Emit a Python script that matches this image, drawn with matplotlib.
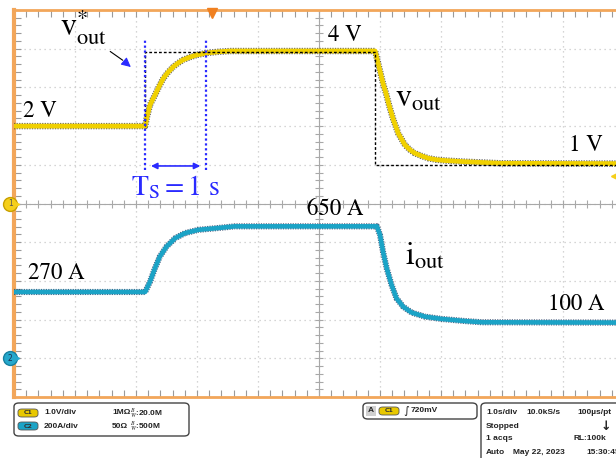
import matplotlib
matplotlib.use('Agg')
import matplotlib.pyplot as plt
from matplotlib.patches import FancyBboxPatch, Rectangle
import numpy as np

W, H = 616, 458

# channel 1: output voltage (V), time in s (1 s/div)
v_t = [0.0, 2.15, 2.18, 2.23, 2.31, 2.38, 2.45, 2.53, 2.61, 2.69, 2.77, 2.88, 3.00,
       3.16, 3.35, 3.54, 5.92, 5.97, 6.01, 6.05, 6.10, 6.14, 6.18, 6.22, 6.30, 6.41,
       6.49, 6.57, 6.68, 6.79, 6.93, 7.07, 7.39, 7.97, 10.0]
v_out = [2.0, 2.0, 2.24, 2.55, 2.80, 3.03, 3.24, 3.40, 3.53, 3.63, 3.71, 3.78, 3.84,
         3.89, 3.92, 3.94, 3.94, 3.62, 3.36, 3.10, 2.84, 2.59, 2.37, 2.16, 1.81, 1.51,
         1.39, 1.30, 1.23, 1.17, 1.13, 1.11, 1.08, 1.04, 1.03]

# reference v*out (dashed)
ref_t = [2.15, 2.15, 5.92, 5.92, 10.0]
ref_v = [2.0, 3.92, 3.92, 1.0, 1.0]

# channel 2: output current (A)
i_t = [0.0, 2.15, 2.23, 2.31, 2.39, 2.50, 2.64, 2.80, 3.02, 3.30, 3.62, 5.95, 6.00,
       6.05, 6.11, 6.19, 6.27, 6.38, 6.52, 6.74, 7.01, 7.39, 7.67, 10.0]
i_out = [270, 270, 329, 405, 472, 529, 577, 606, 625, 634, 645, 645, 596, 500, 405,
         310, 234, 186, 152, 129, 116, 104, 97, 95]

ts_lines = [2.15, 3.15]

YEL = '#f0d000'
CYN = '#1ba3c6'
ORG = '#f2a65a'
BLU = '#2a2aff'


def px(x):
    return x / W


def py(y):
    return 1 - y / H


plt.rcParams['mathtext.fontset'] = 'stix'
fig = plt.figure(figsize=(W / 100, H / 100), dpi=100)
ax = fig.add_axes([px(14), py(397), 610 / W, 387 / H])
ax.set_xlim(0, 10)
ax.set_ylim(-5, 5)
ax2 = ax.twinx()
ax2.set_ylim(-330, 1881)
ax2.axis('off')

# graticule
ax.set_xticks(np.arange(0, 11, 1))
ax.set_yticks(np.arange(-5, 6, 1))
ax.set_xticks(np.arange(0, 10.01, 0.2), minor=True)
ax.set_yticks(np.arange(-5, 5.01, 0.2), minor=True)
ax.tick_params(which='both', direction='in', length=5, width=0.8, color='#9a9a9a',
               top=True, right=False, labelbottom=False, labelleft=False)
ax.grid(True, which='major', color='#c8c8c8', lw=0.9, ls=(0, (1, 3)))
for s in ['left', 'top', 'bottom']:
    ax.spines[s].set_color(ORG)
ax.spines['left'].set_linewidth(3)
ax.spines['top'].set_linewidth(2)
ax.spines['bottom'].set_linewidth(2)
ax.spines['right'].set_visible(False)

ax.axvline(5, color='#a8a8a8', lw=0.8)
ax.axhline(0, color='#a8a8a8', lw=0.8)
ax.plot(np.full(51, 5.0), np.arange(-5, 5.01, 0.2), ls='none', marker='_',
        ms=6, color='#a8a8a8', mew=0.8)
ax.plot(np.arange(0, 10.01, 0.2), np.zeros(51), ls='none', marker='|',
        ms=6, color='#a8a8a8', mew=0.8)

# traces
ax.plot(v_t, v_out, color='#2a2a2a', lw=4.6, alpha=0.75, ls=(0, (0.2, 0.2)), zorder=3)
ax.plot(v_t, v_out, color=YEL, lw=3.4, zorder=4)
ax.plot(ref_t, ref_v, color='black', lw=1.0, ls=(0, (2, 1.5)), zorder=5)
ax2.plot(i_t, i_out, color='#0d2a55', lw=4.4, alpha=0.75, ls=(0, (0.2, 0.2)), zorder=3)
ax2.plot(i_t, i_out, color=CYN, lw=3.3, zorder=4)

# Ts annotation
for t in ts_lines:
    ax.plot([t, t], [0.87, 4.28], color=BLU, lw=1.6, ls=(0, (1, 1.2)), zorder=6)
ax.annotate('', xy=(ts_lines[0] + 0.05, 0.97), xytext=(ts_lines[1] - 0.05, 0.97),
            arrowprops=dict(arrowstyle='<|-|>', color=BLU, lw=1.2, mutation_scale=9))
ax.text(1.92, 0.22, r'$\mathrm{T_S = 1\ s}$', color=BLU, fontsize=20)

# v*out pointer
ax.annotate('', xy=(1.82, 3.66), xytext=(1.54, 3.97),
            arrowprops=dict(arrowstyle='-', color='black', lw=0.8))
ax.annotate('', xy=(1.95, 3.48), xytext=(1.80, 3.68),
            arrowprops=dict(arrowstyle='-|>', color=BLU, lw=0.8, mutation_scale=14))

lab = dict(fontsize=16.5, fontfamily='STIXGeneral', color='black')
ax.text(0.15, 2.23, '2 V', **lab)
ax.text(5.15, 4.20, '4 V', **lab)
ax.text(9.10, 1.36, '1 V', **lab)
ax.text(0.23, -1.95, '270 A', **lab)
ax.text(4.80, -0.30, '650 A', **lab)
ax.text(8.75, -2.75, '100 A', **lab)
ax.text(0.75, 4.35, r'$\mathrm{v}^{*}_{\mathrm{out}}$', fontsize=23)
ax.text(6.25, 2.49, r'$\mathrm{v}_{\mathrm{out}}$', fontsize=23)
ax.text(6.41, -1.59, r'$\mathrm{i}_{\mathrm{out}}$', fontsize=23)

# channel / trigger markers
ax.plot([-0.06], [0], marker='o', ms=10, mfc='#f5cf1a', mec='#c8a000', clip_on=False, zorder=10)
ax.text(-0.06, 0, '1', fontsize=5.5, ha='center', va='center', color='#555555', zorder=11, clip_on=False)
ax.plot([0.05], [0], marker='>', ms=3, color='#f5cf1a', clip_on=False, zorder=10)
ax.plot([-0.07], [-4], marker='o', ms=10, mfc='#25a8cc', mec='#1780a0', clip_on=False, zorder=10)
ax.text(-0.07, -4, '2', fontsize=5.5, ha='center', va='center', color='#1a3050', zorder=11, clip_on=False)
ax.plot([0.05], [-4], marker='>', ms=3, color='#25a8cc', clip_on=False, zorder=10)
ax.plot([3.25], [4.93], marker='v', ms=7, color='#f08020', clip_on=False, zorder=10)
ax.plot([9.85], [0.72], marker='<', ms=6, color='#f5cf1a', clip_on=False, zorder=10)

# ---- status panel ----
sf = dict(fontsize=6, fontweight='bold', fontfamily=['Liberation Sans Narrow', 'Liberation Sans'],
          color='#222222', va='center')


def box(x0, y0, x1, y1):
    p = FancyBboxPatch((px(x0), py(y1)), px(x1) - px(x0), py(y0) - py(y1),
                       boxstyle='round,pad=0,rounding_size=0.008', transform=fig.transFigure,
                       fc='white', ec='#444444', lw=1.0, clip_on=False)
    fig.add_artist(p)


def pill(x, y, color, label):
    p = FancyBboxPatch((px(x), py(y + 4)), px(20), 8 / H,
                       boxstyle='round,pad=0,rounding_size=0.006', transform=fig.transFigure,
                       fc=color, ec='#555555', lw=0.6)
    fig.add_artist(p)
    fig.text(px(x + 10), py(y), label, ha='center', fontsize=4.5, color='#333333',
             va='center', fontweight='bold')


box(14, 403, 189, 436)
pill(18, 413, '#e8c800', 'C1')
pill(18, 426, '#1ba3c6', 'C2')
fig.text(px(44), py(413), '1.0V/div', **sf)
fig.text(px(44), py(426), '200A/div', **sf)
fig.text(px(112), py(413), '1MΩ', **sf)
fig.text(px(112), py(426), '50Ω', **sf)
fig.text(px(130), py(413), r'$^{B}_{W}$:20.0M', **sf)
fig.text(px(130), py(426), r'$^{B}_{W}$:500M', **sf)

box(363, 403, 477, 419)
fig.add_artist(Rectangle((px(366), py(416)), px(10), 10 / H, transform=fig.transFigure,
                         fc='#d0d0d0', ec='none'))
fig.text(px(371), py(411), 'A', ha='center', **sf)
pill(379, 411, '#e8c800', 'C1')
fig.text(px(403), py(411), '∫', fontsize=8, color='#222222', va='center')
fig.text(px(411), py(411), '720mV', **sf)

box(481, 403, 630, 475)
fig.text(px(486), py(413), '1.0s/div', **sf)
fig.text(px(526), py(413), '10.0kS/s', **sf)
fig.text(px(577), py(413), '100µs/pt', **sf)
fig.text(px(486), py(426), 'Stopped', **sf)
fig.text(px(601), py(426), '↓', fontsize=9, fontweight='bold', color='#222222', va='center')
fig.text(px(486), py(439), '1 acqs', **sf)
fig.text(px(573), py(439), 'RL:100k', **sf)
fig.text(px(486), py(452), 'Auto', **sf)
fig.text(px(513), py(452), 'May 22, 2023', **sf)
fig.text(px(586), py(452), '15:30:45', **sf)

fig.savefig('out.png', dpi=100)
